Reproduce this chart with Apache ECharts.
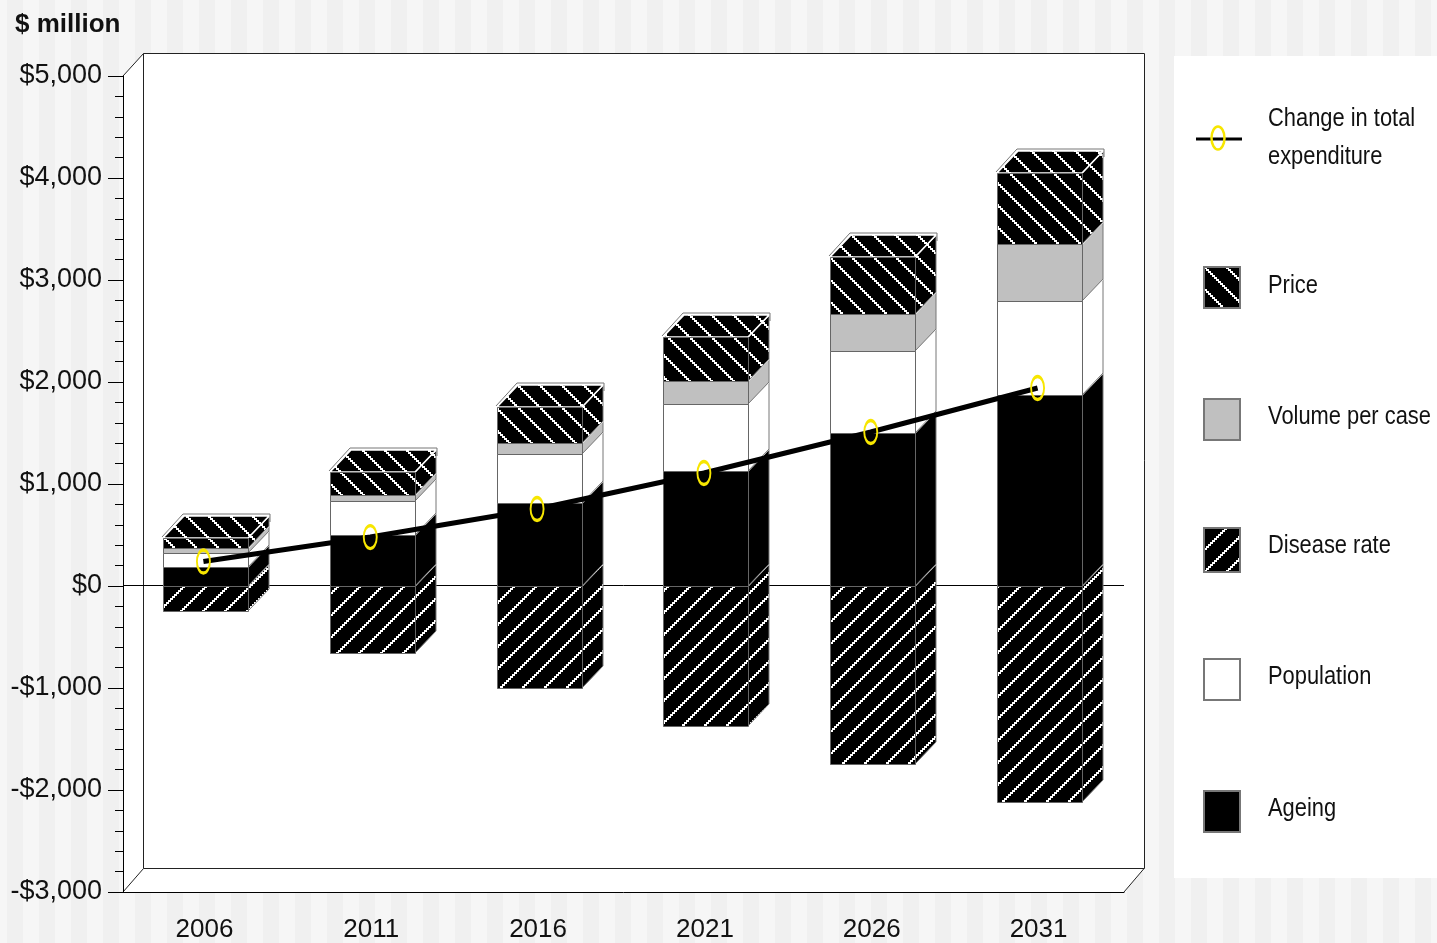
<!DOCTYPE html>
<html><head><meta charset="utf-8">
<style>
html,body{margin:0;padding:0;width:1437px;height:943px;overflow:hidden;
background-color:#f6f6f6;
background-image:repeating-linear-gradient(90deg,#f0f0f0 0 16px,#f6f6f6 16px 32px);
background-position:7px 0;}
#c{width:1437px;height:943px;}
</style>
<script src="https://cdn.jsdelivr.net/npm/echarts@6/dist/echarts.min.js"></script>
</head><body><div id="c"></div>
<script>
const categories = ['2006','2011','2016','2021','2026','2031'];
const ageing     = [186, 500, 813, 1127, 1500, 1873];
const population = [137, 333, 480, 657, 804, 922];
const volume     = [50, 60, 108, 225, 363, 559];
const price      = [100, 225, 353, 431, 559, 696];
const disease    = [-245, -657, -1000, -1372, -1745, -2118];
const change     = [240, 480, 755, 1108, 1510, 1941];
const legendLabels = [['Change in total', 119], ['expenditure', 157], ['Price', 286],
  ['Volume per case', 417], ['Disease rate', 546], ['Population', 677], ['Ageing', 809]];

const FONT = '"Liberation Sans", Arial, sans-serif';
const DEPTH_X = 21, DEPTH_Y = 22, BAR_W = 85;

function hatch(dir) {
  const n = 22, cv = document.createElement('canvas');
  cv.width = n; cv.height = n;
  const g = cv.getContext('2d');
  g.fillStyle = '#000'; g.fillRect(0, 0, n, n);
  g.fillStyle = '#fff';
  for (let i = 0; i < n; i += 2) {
    const y = dir > 0 ? i : n - 2 - i;
    g.fillRect(i, y, 3, 2);
    if (i === n - 2) { g.fillRect(0, y, 1, 2); }
  }
  return { image: cv, repeat: 'repeat' };
}
const priceFill = hatch(1), diseaseFill = hatch(-1);

function stacked(values, below) {
  return values.map((v, i) => {
    const base = below.reduce((s, a) => s + a[i], 0);
    return [i, base, base + v];
  });
}

function boxRenderer(isTop) {
  return function (params, api) {
    const i = api.value(0);
    const lo = api.coord([i, api.value(1)]);
    const hi = api.coord([i, api.value(2)]);
    const fill = api.style().fill;
    const x0 = Math.round(lo[0] - BAR_W / 2) - 1, x1 = x0 + BAR_W;
    const yA = Math.round(Math.min(lo[1], hi[1])), yB = Math.round(Math.max(lo[1], hi[1]));
    const kids = [];
    kids.push({ type: 'polygon',
      shape: { points: [[x1, yA], [x1 + DEPTH_X, yA - DEPTH_Y], [x1 + DEPTH_X, yB - DEPTH_Y], [x1, yB]] },
      style: { fill: fill, stroke: '#777', lineWidth: 1 } });
    kids.push({ type: 'polyline',
      shape: { points: [[x1, yA], [x1 + DEPTH_X, yA - DEPTH_Y]] },
      style: { fill: null, stroke: '#fff', lineWidth: 1.5 } });
    if (isTop) {
      kids.push({ type: 'polygon',
        shape: { points: [[x0, yA], [x0 + DEPTH_X, yA - DEPTH_Y], [x1 + DEPTH_X, yA - DEPTH_Y], [x1, yA]] },
        style: { fill: fill, stroke: '#fff', lineWidth: 1.5 } });
      kids.push({ type: 'polyline',
        shape: { points: [[x0 - 1, yA - 1], [x0 + DEPTH_X - 1, yA - DEPTH_Y - 2], [x1 + DEPTH_X + 1, yA - DEPTH_Y - 2], [x1 + DEPTH_X + 1, yA - DEPTH_Y + 6]] },
        style: { fill: null, stroke: '#777', lineWidth: 1 } });
    }
    kids.push({ type: 'rect',
      shape: { x: x0 + 0.5, y: yA + 0.5, width: BAR_W, height: yB - yA },
      style: { fill: fill, stroke: '#666', lineWidth: 1 } });
    return { type: 'group', children: kids };
  };
}

function boxSeries(name, color, rows, isTop, z) {
  return { name, type: 'custom', z,
    xAxisIndex: 0, yAxisIndex: 0,
    itemStyle: { color: color, borderColor: '#777', borderWidth: 1 },
    encode: { x: 0, y: [1, 2] },
    renderItem: boxRenderer(isTop), data: rows, silent: true };
}

function legendOf(name, top, extra) {
  return Object.assign({
    show: true, data: [{ name, icon: 'rect' }], orient: 'vertical', left: 1203, top,
    selectedMode: false, itemWidth: 36, itemHeight: 41, padding: 0,
    formatter: () => ' ',
    textStyle: { fontFamily: FONT, fontSize: 10 }
  }, extra || {});
}

const valueAxisBase = { type: 'value', min: -3000, max: 5000, interval: 1000 };
const EDGE = '#222';

const option = {
  animation: false,
  grid: [
    { left: 123, right: 313, top: 76, bottom: 51 },
    { left: 120, right: 316, top: 76, bottom: 51 }
  ],
  title: { text: '$ million', left: 15, top: 12,
    textStyle: { fontFamily: FONT, fontSize: 26, fontWeight: 'bold', color: '#111' }, padding: 0 },
  xAxis: [
    { type: 'category', gridIndex: 0, data: categories,
      axisLine: { onZero: false, lineStyle: { color: '#000', width: 1 } },
      axisTick: { show: false },
      axisLabel: { margin: 25, padding: [0, 4, 0, 0], fontFamily: FONT, fontSize: 26, color: '#111' } },
    { type: 'category', gridIndex: 1, data: categories, show: false }
  ],
  yAxis: [
    Object.assign({}, valueAxisBase, { gridIndex: 0,
      axisLine: { show: true, lineStyle: { color: '#000', width: 1 } },
      axisTick: { show: true, length: 15, lineStyle: { color: '#000' } },
      minorTick: { show: true, splitNumber: 5, length: 8, lineStyle: { color: '#000' } },
      splitLine: { show: false },
      axisLabel: { margin: 21, fontFamily: FONT, fontSize: 27, color: '#111',
        formatter: v => (v < 0 ? '-$' : '$') + Math.abs(v).toLocaleString('en-US') } }),
    Object.assign({}, valueAxisBase, { gridIndex: 1, show: false })
  ],
  legend: [
    legendOf('Price', 266),
    legendOf('Volume per case', 398),
    legendOf('Disease rate', 527, { itemHeight: 44 }),
    legendOf('Population', 658),
    legendOf('Ageing', 790)
  ],
  graphic: { elements: [
    { type: 'rect', z: -10, shape: { x: 1174, y: 56, width: 263, height: 822 }, style: { fill: '#fff' } },
    { type: 'polygon', z: -9, shape: { points: [[123, 76], [143, 54], [1144, 54], [1144, 868], [1124, 892], [123, 892]] },
      style: { fill: '#fff' } },
    { type: 'polyline', z: -8, shape: { points: [[123, 76], [143.5, 53.5], [1144.5, 53.5], [1144.5, 868], [1124, 892]] },
      style: { fill: null, stroke: EDGE, lineWidth: 1 } },
    { type: 'polyline', z: -8, shape: { points: [[143.5, 53.5], [143.5, 868.5], [1144.5, 868.5]] },
      style: { fill: null, stroke: EDGE, lineWidth: 1 } },
    { type: 'line', z: -8, shape: { x1: 143.5, y1: 868.5, x2: 123, y2: 892 },
      style: { stroke: EDGE, lineWidth: 1 } },
    { type: 'line', z: -8, shape: { x1: 123, y1: 585.5, x2: 1124, y2: 585.5 },
      style: { stroke: '#000', lineWidth: 1 } },
    { type: 'line', z: 19, shape: { x1: 1196, y1: 139, x2: 1242, y2: 139 },
      style: { stroke: '#000', lineWidth: 3 } },
    { type: 'ellipse', z: 20, shape: { cx: 1218, cy: 138, rx: 6.5, ry: 11.5 },
      style: { fill: null, stroke: '#f7e600', lineWidth: 2.5 } }
  ].concat(legendLabels.map(([text, y]) => ({
    type: 'text', z: 20, x: 1268, y, scaleX: 0.875,
    style: { text, fill: '#111', font: '25px ' + FONT, verticalAlign: 'middle', align: 'left' }
  }))) },
  series: [
    boxSeries('Disease rate', diseaseFill, disease.map((v, i) => [i, 0, v]), false, 2),
    boxSeries('Ageing', '#000', stacked(ageing, []), false, 3),
    boxSeries('Population', '#fff', stacked(population, [ageing]), false, 4),
    boxSeries('Volume per case', '#c0c0c0', stacked(volume, [ageing, population]), false, 5),
    boxSeries('Price', priceFill, stacked(price, [ageing, population, volume]), true, 6),
    { name: 'Change in total expenditure', type: 'line', z: 8, xAxisIndex: 1, yAxisIndex: 1,
      data: change, symbol: 'circle', symbolSize: [13, 23], showAllSymbol: true,
      lineStyle: { color: '#000', width: 5 },
      itemStyle: { color: 'rgba(0,0,0,0)', borderColor: '#f7e600', borderWidth: 2.5 }, silent: true }
  ]
};
const chart = echarts.init(document.getElementById('c'), null, { renderer: 'canvas', width: 1437, height: 943 });
chart.setOption(option);
</script></body></html>
